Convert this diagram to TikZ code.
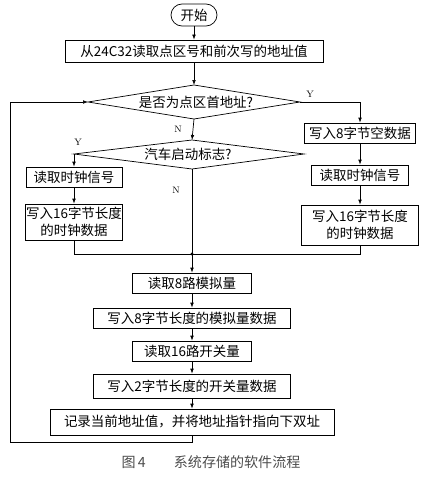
\documentclass[tikz,border=0pt]{standalone}
\usepackage{fontspec}
\newfontfamily\cjk{Noto Sans CJK SC}
\usetikzlibrary{arrows.meta}
\tikzset{
  stepbox/.style={draw=black, line width=0.6pt, font=\cjk\fontsize{11.5}{15}\selectfont, inner sep=0pt, align=center},
  termbox/.style={stepbox, rounded corners=0.33cm},
  testtext/.style={font=\cjk\fontsize{11.5}{15}\selectfont, inner sep=0pt},
  testline/.style={line width=0.6pt, line join=miter},
  flow/.style={line width=0.6pt, -{Latex[length=1.5mm,width=1.1mm]}},
  plain/.style={line width=0.6pt},
  ynlabel/.style={font=\fontsize{8}{9}\selectfont},
}
\begin{document}
\begin{tikzpicture}[x=0.03cm, y=-0.03cm]
\useasboundingbox (0,0) rectangle (425,477);
\node[termbox, minimum width=1.38cm, minimum height=0.66cm] (start) at (194,15) {开始};
\node[stepbox, minimum width=7.74cm, minimum height=0.66cm] (readaddr) at (194,51) {从24C32读取点区号和前次写的地址值};
\coordinate (isfirst-n) at (194,85);
\coordinate (isfirst-s) at (194,119);
\coordinate (isfirst-w) at (88,102);
\coordinate (isfirst-e) at (300,102);
\draw[testline] (isfirst-n) -- (isfirst-e) -- (isfirst-s) -- (isfirst-w) -- cycle;
\node[testtext] (isfirst) at (196,102) {是否为点区首地址?};
\node[stepbox, minimum width=3.33cm, minimum height=0.6cm] (writeblank) at (360,133) {写入8字节空数据};
\node[stepbox, minimum width=2.91cm, minimum height=0.6cm] (clockr) at (360,175) {读取时钟信号};
\node[stepbox, minimum width=3.51cm, minimum height=1.2cm] (clockwr) at (360,225) {写入16字节长度\\的时钟数据};
\coordinate (engine-n) at (192,140);
\coordinate (engine-s) at (192,169);
\coordinate (engine-w) at (74,154);
\coordinate (engine-e) at (304,154);
\draw[testline] (engine-n) -- (engine-e) -- (engine-s) -- (engine-w) -- cycle;
\node[testtext] (engine) at (188,154) {汽车启动标志?};
\node[stepbox, minimum width=2.88cm, minimum height=0.6cm] (clockl) at (74,177) {读取时钟信号};
\node[stepbox, minimum width=2.91cm, minimum height=1.08cm] (clockwl) at (74,222) {写入16字节长度\\的时钟数据};
\coordinate (merge) at (192,254);
\node[stepbox, minimum width=3.57cm, minimum height=0.6cm] (analog) at (192,283) {读取8路模拟量};
\node[stepbox, minimum width=5.91cm, minimum height=0.6cm] (analogw) at (192,318) {写入8字节长度的模拟量数据};
\node[stepbox, minimum width=3.57cm, minimum height=0.6cm] (switch) at (192,351) {读取16路开关量};
\node[stepbox, minimum width=5.91cm, minimum height=0.72cm] (switchw) at (192,386) {写入2字节长度的开关量数据};
\node[stepbox, minimum width=8.52cm, minimum height=0.78cm] (record) at (192,422) {记录当前地址值，并将地址指针指向下双址};
\coordinate (loopbot) at (10,442);
\coordinate (looptop) at (10,102);
\node[ynlabel] (y1) at (310,94) {Y};
\node[ynlabel] (n1) at (178,129) {N};
\node[ynlabel] (y2) at (78,142) {Y};
\node[ynlabel] (n2) at (176,190) {N};
\node[font=\cjk\fontsize{12}{14}\selectfont, text=black!70] (caption) at (211,462) {图\,4\qquad 系统存储的软件流程};
\draw[flow] (start) -- (readaddr);
\draw[flow] (readaddr) -- (isfirst-n);
\draw[flow] (isfirst-e) -| (writeblank.north);
\draw[flow] (writeblank) -- (clockr);
\draw[flow] (clockr) -- (clockwr);
\draw[flow] (isfirst-s) -- (engine-n);
\draw[flow] (engine-w) -- (clockl.north);
\draw[flow] (clockl) -- (clockwl);
\draw[plain] (engine-s) -- (merge);
\draw[plain] (clockwl.south) |- (merge);
\draw[plain] (clockwr.south) |- (merge);
\fill (merge) circle (0.05cm);
\draw[flow] (merge) -- (analog);
\draw[flow] (analog) -- (analogw);
\draw[flow] (analogw) -- (switch);
\draw[flow] (switch) -- (switchw);
\draw[flow] (switchw) -- (record);
\draw[flow] (record.south) |- (loopbot) -- (looptop) -- (isfirst-w);
\end{tikzpicture}
\end{document}
